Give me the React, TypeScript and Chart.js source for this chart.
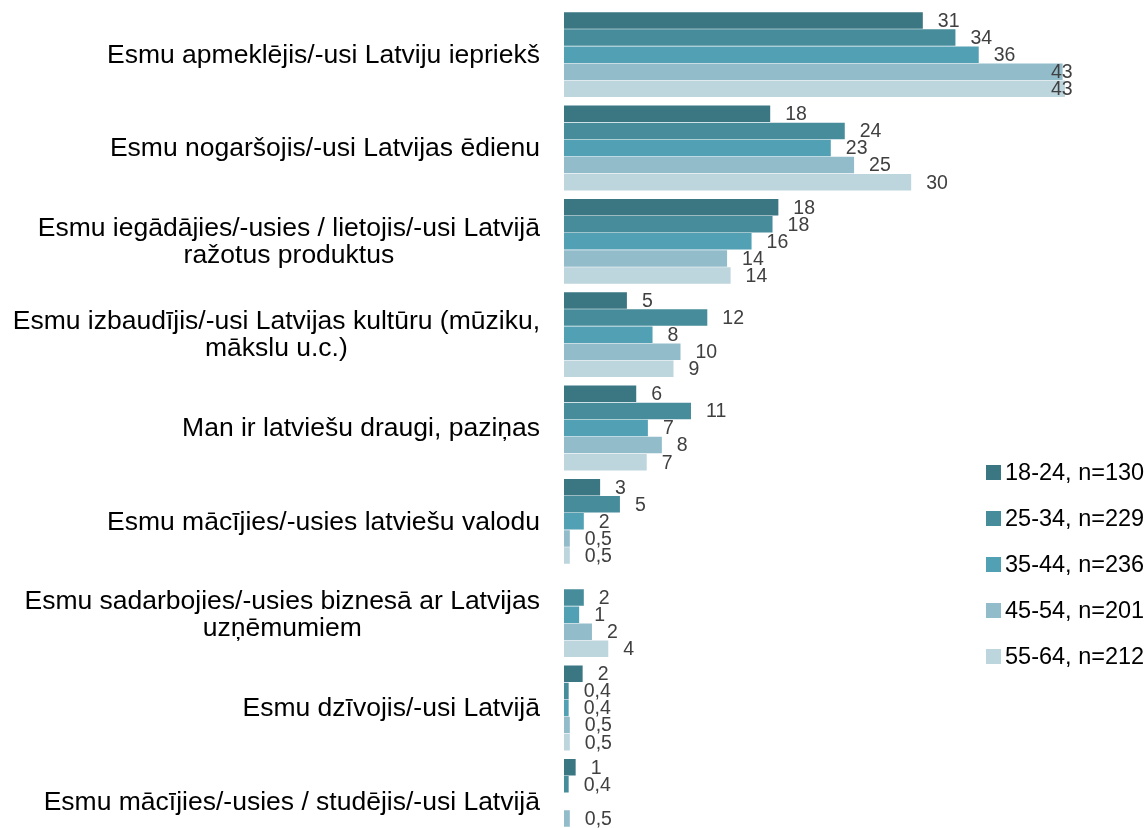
import React, { useEffect, useRef } from "react";
import { Chart, registerables } from "chart.js";

Chart.register(...registerables);

const FONT = '"Liberation Sans", Arial, Helvetica, sans-serif';

const categories: string[][] = [
  ["Esmu apmeklējis/-usi Latviju iepriekš"],
  ["Esmu nogaršojis/-usi Latvijas ēdienu"],
  ["Esmu iegādājies/-usies / lietojis/-usi Latvijā", "ražotus produktus"],
  ["Esmu izbaudījis/-usi Latvijas kultūru (mūziku,", "mākslu u.c.)"],
  ["Man ir latviešu draugi, paziņas"],
  ["Esmu mācījies/-usies latviešu valodu"],
  ["Esmu sadarbojies/-usies biznesā ar Latvijas", "uzņēmumiem"],
  ["Esmu dzīvojis/-usi Latvijā"],
  ["Esmu mācījies/-usies / studējis/-usi Latvijā"],
];

const seriesLabels = [
  "18-24, n=130",
  "25-34, n=229",
  "35-44, n=236",
  "45-54, n=201",
  "55-64, n=212",
];

const seriesColors = ["#3b7683", "#468c9b", "#52a0b3", "#93bccb", "#bdd5dd"];

const age18_24 = [30.8, 17.7, 18.4, 5.4, 6.2, 3.1, null, 1.6, 1];
const age25_34 = [33.6, 24.1, 17.9, 12.3, 10.9, 4.8, 1.7, 0.4, 0.4];
const age35_44 = [35.6, 22.9, 16.1, 7.6, 7.2, 1.7, 1.3, 0.4, null];
const age45_54 = [42.8, 24.9, 14.0, 10.0, 8.4, 0.5, 2.4, 0.5, 0.5];
const age55_64 = [43.0, 29.8, 14.3, 9.4, 7.1, 0.5, 3.8, 0.5, null];

const seriesValues = [age18_24, age25_34, age35_44, age45_54, age55_64];

const X_MAX = 44;

function formatValue(v: number): string {
  if (v < 1) return v.toFixed(1).replace(".", ",");
  return String(Math.round(v));
}

const yLabelPlugin = {
  id: "yLabelPlugin",
  afterDraw(chart: any) {
    const ctx = chart.ctx;
    const y = chart.scales.y;
    ctx.save();
    ctx.font = `26.5px ${FONT}`;
    ctx.fillStyle = "#000000";
    ctx.textBaseline = "middle";
    ctx.textAlign = "center";
    const right = chart.chartArea.left - 24;
    categories.forEach((lines, i) => {
      const cy = y.getPixelForValue(i);
      const w = Math.max(...lines.map((l) => ctx.measureText(l).width));
      const cx = right - w / 2;
      lines.forEach((l, j) => {
        ctx.fillText(l, cx, cy + (j - (lines.length - 1) / 2) * 27 + 1);
      });
    });
    ctx.restore();
  },
};

const valueLabelPlugin = {
  id: "valueLabelPlugin",
  afterDatasetsDraw(chart: any) {
    const ctx = chart.ctx;
    ctx.save();
    ctx.font = `19.5px ${FONT}`;
    ctx.fillStyle = "#404040";
    ctx.textBaseline = "middle";
    ctx.textAlign = "left";
    const limit = chart.chartArea.right - 4;
    chart.data.datasets.forEach((ds: any, di: number) => {
      const meta = chart.getDatasetMeta(di);
      meta.data.forEach((el: any, i: number) => {
        const v = ds.data[i];
        if (v === null || v === undefined) return;
        const txt = formatValue(v);
        const w = ctx.measureText(txt).width;
        let x = el.x + 15;
        if (x + w > limit) x = limit - w;
        ctx.fillText(txt, x, el.y + 1);
      });
    });
    ctx.restore();
  },
};

export default function App() {
  const canvasRef = useRef<HTMLCanvasElement | null>(null);

  useEffect(() => {
    const canvas = canvasRef.current;
    if (!canvas) return;
    const chart = new Chart(canvas, {
      type: "bar",
      data: {
        labels: categories.map((c) => c.join(" ")),
        datasets: seriesLabels.map((label, i) => ({
          label,
          data: seriesValues[i],
          backgroundColor: seriesColors[i],
          borderWidth: 0,
          categoryPercentage: 0.915,
          barPercentage: 0.97,
        })),
      },
      options: {
        indexAxis: "y",
        responsive: false,
        animation: false,
        devicePixelRatio: 1,
        layout: { padding: { left: 0, right: 1131 - 556 - X_MAX * 11.65, top: 0, bottom: 0 } },
        plugins: {
          legend: { display: false },
          tooltip: { enabled: false },
          title: { display: false },
        },
        scales: {
          x: {
            display: false,
            min: 0,
            max: X_MAX,
          },
          y: {
            grid: { display: false },
            border: { display: false },
            ticks: { display: false },
            afterFit: (scale: any) => {
              scale.width = 556;
            },
          },
        },
      },
      plugins: [yLabelPlugin, valueLabelPlugin],
    } as any);
    return () => {
      chart.destroy();
    };
  }, []);

  return (
    <div
      style={{
        position: "fixed",
        left: 0,
        top: 0,
        width: 1147,
        height: 828,
        overflow: "hidden",
        background: "#ffffff",
      }}
    >
      <canvas
        ref={canvasRef}
        width={1131}
        height={840}
        style={{ display: "block", position: "absolute", left: 8, top: 8 }}
      />
      <div
        style={{
          position: "absolute",
          left: 986,
          top: 449,
          fontFamily: FONT,
          fontSize: 23.5,
          color: "#000",
        }}
      >
        {seriesLabels.map((s, i) => (
          <div
            key={s}
            style={{ display: "flex", alignItems: "center", height: 46, whiteSpace: "nowrap" }}
          >
            <span
              style={{
                display: "inline-block",
                width: 15,
                height: 15,
                background: seriesColors[i],
                marginRight: 4,
              }}
            />
            {s}
          </div>
        ))}
      </div>
    </div>
  );
}
